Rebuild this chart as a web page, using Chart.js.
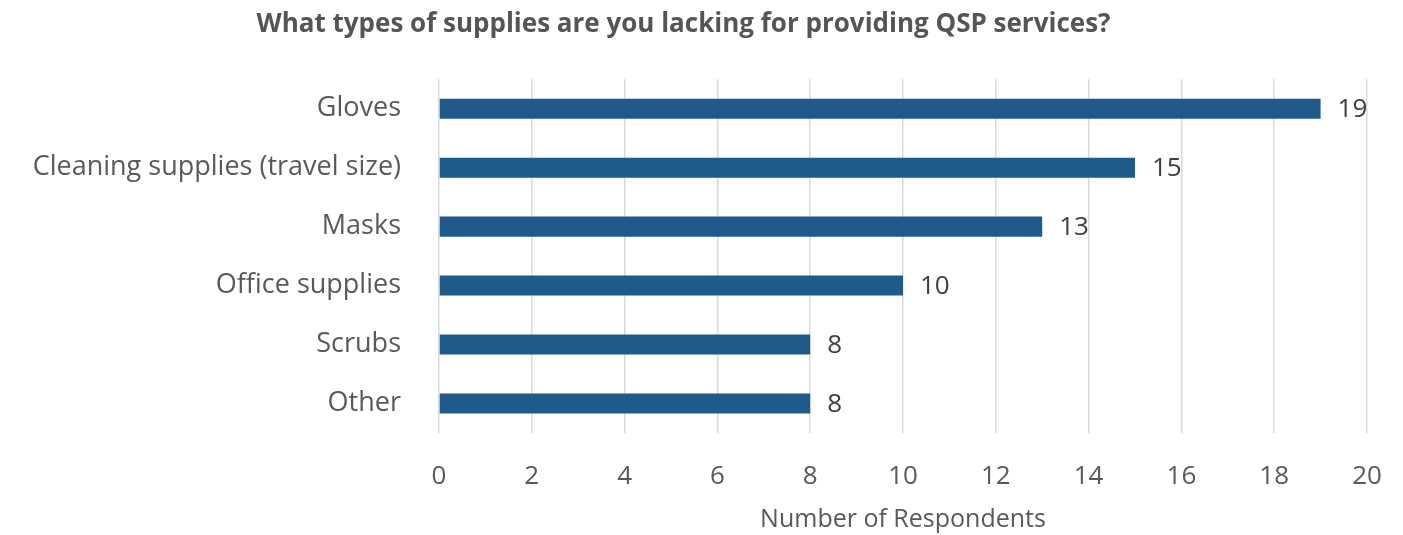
<!DOCTYPE html>
<html lang="en">
<head>
    <meta charset="UTF-8">
    <title>QSP supplies</title>
    <style>
        html, body { margin: 0; padding: 0; background: #ffffff; }
        .chart-container { width: 1403px; height: 535px; position: relative; }
    </style>
    <script src="https://cdn.jsdelivr.net/npm/chart.js@4.4.1/dist/chart.umd.min.js"></script>
</head>
<body>
    <div class="chart-container">
        <canvas id="supplies-chart"></canvas>
    </div>
    <script>
        const categories = ['Gloves', 'Cleaning supplies (travel size)', 'Masks', 'Office supplies', 'Scrubs', 'Other'];
        const respondents = [19, 15, 13, 10, 8, 8];
        const xTicks = [0, 2, 4, 6, 8, 10, 12, 14, 16, 18, 20];

        const FONT = "'Open Sans', sans-serif";
        const TEXT = '#595959';

        // writes the count just past the end of each bar
        const valueLabels = {
            id: 'valueLabels',
            afterDatasetsDraw(chart) {
                const ctx = chart.ctx;
                const meta = chart.getDatasetMeta(0);
                ctx.save();
                ctx.font = '26px ' + FONT;
                ctx.fillStyle = '#404040';
                ctx.textAlign = 'left';
                ctx.textBaseline = 'middle';
                meta.data.forEach((bar, i) => {
                    ctx.fillText(String(respondents[i]), bar.x + 17, bar.y + 1);
                });
                ctx.restore();
            }
        };

        new Chart(document.getElementById('supplies-chart'), {
            type: 'bar',
            data: {
                labels: categories,
                datasets: [{
                    data: respondents,
                    backgroundColor: '#1f5a8b',
                    barPercentage: 0.34,
                    categoryPercentage: 1
                }]
            },
            options: {
                indexAxis: 'y',
                responsive: true,
                maintainAspectRatio: false,
                animation: false,
                layout: { padding: { left: 0, right: 36, top: 0, bottom: 0 } },
                plugins: {
                    legend: { display: false },
                    tooltip: { enabled: false },
                    title: {
                        display: true,
                        text: 'What types of supplies are you lacking for providing QSP services?',
                        color: '#555555',
                        font: { family: FONT, size: 26, weight: 'bold' },
                        padding: { top: 9, bottom: 39 }
                    }
                },
                scales: {
                    x: {
                        min: 0,
                        max: 20,
                        afterBuildTicks(scale) {
                            scale.ticks = xTicks.map(v => ({ value: v }));
                        },
                        afterFit(scale) {
                            scale.height = 102;
                            scale.paddingLeft = 0;
                            scale.paddingRight = 0;
                        },
                        grid: { color: '#d9d9d9', lineWidth: 1.5, drawTicks: false },
                        border: { display: false },
                        ticks: {
                            color: TEXT,
                            padding: 28,
                            font: { family: FONT, size: 26 }
                        },
                        title: {
                            display: true,
                            text: 'Number of Respondents',
                            color: TEXT,
                            padding: { top: 0, bottom: 0 },
                            font: { family: FONT, size: 25 }
                        }
                    },
                    y: {
                        afterFit(scale) { scale.width = 439; },
                        grid: { display: false },
                        border: { display: false },
                        ticks: {
                            color: TEXT,
                            padding: 30,
                            font: { family: FONT, size: 27 }
                        }
                    }
                }
            },
            plugins: [valueLabels]
        });
    </script>
</body>
</html>
